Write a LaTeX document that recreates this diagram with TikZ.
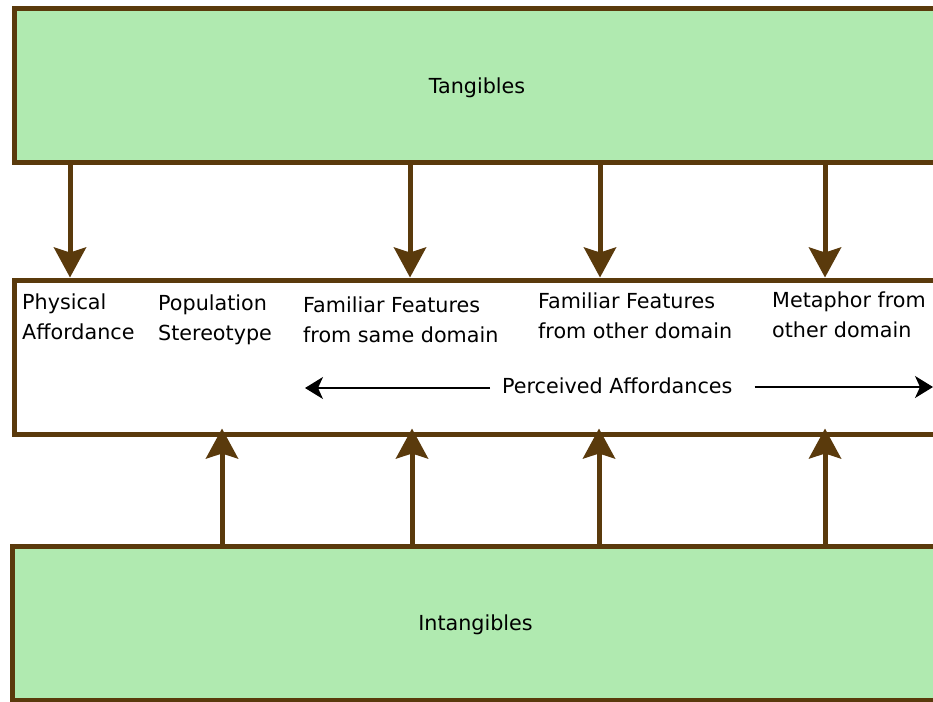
\documentclass[tikz,border=0pt]{standalone}
\usepackage{fontspec}
\setmainfont{DejaVu Sans}
\usetikzlibrary{arrows.meta}
\definecolor{brn}{RGB}{90,58,12}
\definecolor{grn}{RGB}{176,234,176}
\begin{document}
\begin{tikzpicture}[x=1pt,y=-1pt,
  bigbox/.style={draw=brn,line width=5pt,fill=grn,rectangle,inner sep=0pt,text depth=0pt,font=\fontsize{20.7}{30}\selectfont},
  midbox/.style={draw=brn,line width=5pt,fill=white,rectangle,inner sep=0pt},
  lbl/.style={inner sep=0pt,anchor=base west,align=left,font=\fontsize{20.7}{30}\selectfont},
  bigarrow/.style={draw=brn,line width=5pt,-{Stealth[length=30pt,width=32pt,inset=5pt]}},
  parrow/.style={draw=black,line width=1.5pt,-{Stealth[length=18pt,width=22pt,inset=5pt]}},
]
\useasboundingbox (0,0) rectangle (933,701);
\clip (0,0) rectangle (933,701);
\fill[white] (0,0) rectangle (933,701);
\node[bigbox,minimum width=926pt,minimum height=153pt] (tang) at (477,85.5) {Tangibles};
\node[midbox,minimum width=926pt,minimum height=154pt] (mid) at (477,357) {};
\node[bigbox,minimum width=926pt,minimum height=154pt] (intang) at (475.5,623) {Intangibles};
\foreach \i/\x in {1/70,2/410,3/600,4/825}{
  \coordinate (d\i) at (\x,0);
  \draw[bigarrow] (d\i |- tang.south) -- (d\i |- mid.north);
}
\foreach \i/\x in {1/222,2/412,3/599,4/825}{
  \coordinate (u\i) at (\x,0);
  \draw[bigarrow] (u\i |- intang.north) -- ([yshift=8pt]u\i |- mid.south);
}
\node[lbl] (l1) at (22,339) {Physical\\Affordance};
\node[lbl] (l2) at (158,340) {Population\\Stereotype};
\node[lbl] (l3) at (303,342) {Familiar Features\\from same domain};
\node[lbl] (l4) at (538,338) {Familiar Features\\from other domain};
\node[lbl] (l5) at (772,337) {Metaphor from\\other domain};
\node[lbl] (perc) at (502,393) {Perceived Affordances};
\coordinate (pl) at (305,388);
\coordinate (pr) at (933,387);
\draw[parrow] ([xshift=-12pt]perc.west |- pl) -- (pl);
\draw[parrow] ([xshift=22pt]perc.east |- pr) -- (pr);
\end{tikzpicture}
\end{document}
